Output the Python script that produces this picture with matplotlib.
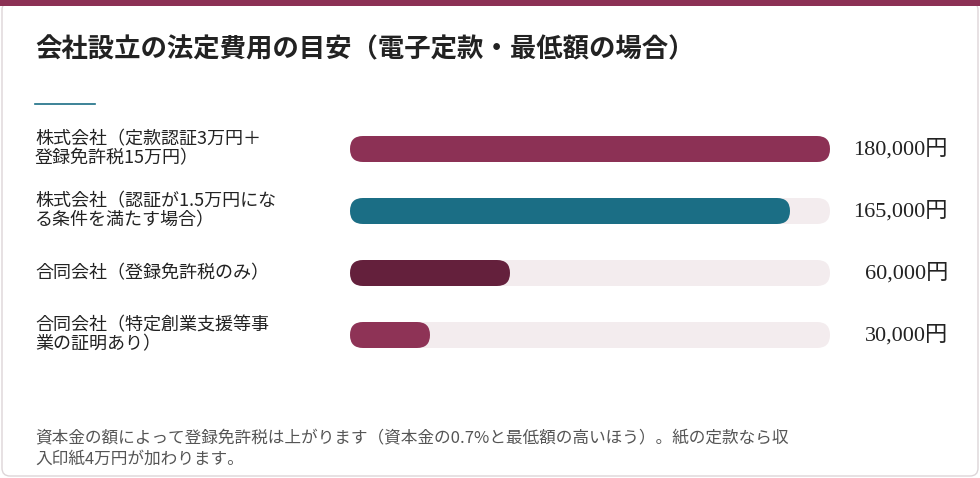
import matplotlib
matplotlib.use("Agg")
import matplotlib.pyplot as plt
from matplotlib.patches import FancyBboxPatch, Rectangle

plt.rcParams['font.family'] = ['Noto Sans CJK JP', 'DejaVu Sans']

title = "会社設立の法定費用の目安（電子定款・最低額の場合）"
labels = ["株式会社（定款認証3万円＋\n登録免許税15万円）",
          "株式会社（認証が1.5万円にな\nる条件を満たす場合）",
          "合同会社（登録免許税のみ）",
          "合同会社（特定創業支援等事\n業の証明あり）"]
values = [180000, 165000, 60000, 30000]
value_labels = ["180,000円", "165,000円", "60,000円", "30,000円"]
colors = ["#8C3155", "#1B6E85", "#64203C", "#8E3356"]
note = "資本金の額によって登録免許税は上がります（資本金の0.7%と最低額の高いほう）。紙の定款なら収\n入印紙4万円が加わります。"
vmax = 180000

W, H = 980, 478
fig = plt.figure(figsize=(W/100, H/100), dpi=100)
bg = fig.add_axes([0, 0, 1, 1])
bg.set_xlim(0, W); bg.set_ylim(H, 0); bg.axis('off')
bg.add_patch(FancyBboxPatch((2, 2), W-4, H-4, boxstyle="round,pad=0,rounding_size=8",
                            fc="white", ec="#DDD5D8", lw=1))
bg.add_patch(Rectangle((0, 0), W, 6, fc="#8C3155", ec="none"))
bg.text(35, 50, title, fontsize=19, fontweight='bold', color="#222222", va='center')
bg.plot([35, 95], [104, 104], color="#1B6E85", lw=1.2)

ys = [149, 211, 273, 335]
for y, lab, vl in zip(ys, labels, value_labels):
    bg.text(35, y, lab, fontsize=13, color="#222222", va='center', linespacing=1.1)
    bg.text(948, y, vl, fontsize=16, ha='right', va='center', color="#222222",
            family=['Liberation Serif', 'Noto Sans CJK JP'])

x0, x1 = 350, 830
bax = fig.add_axes([x0/W, 0, (x1-x0)/W, 1])
bax.set_xlim(0, vmax); bax.set_ylim(H, 0); bax.axis('off')
upp = vmax/(x1-x0)  # data units per pixel in x
h = 26
def rbar(v, y, c):
    bax.add_patch(FancyBboxPatch((0, y-h/2), v, h,
                  boxstyle=f"round,pad=0,rounding_size={13*upp}",
                  mutation_aspect=1/upp, fc=c, ec='none', clip_on=False))
for y, v, c in zip(ys, values, colors):
    rbar(vmax, y, "#F3ECEE")
    rbar(v, y, c)

bg.text(35, 449, note, fontsize=12, color="#555555", va='center', linespacing=1.25)
fig.savefig("out.png", dpi=100)
